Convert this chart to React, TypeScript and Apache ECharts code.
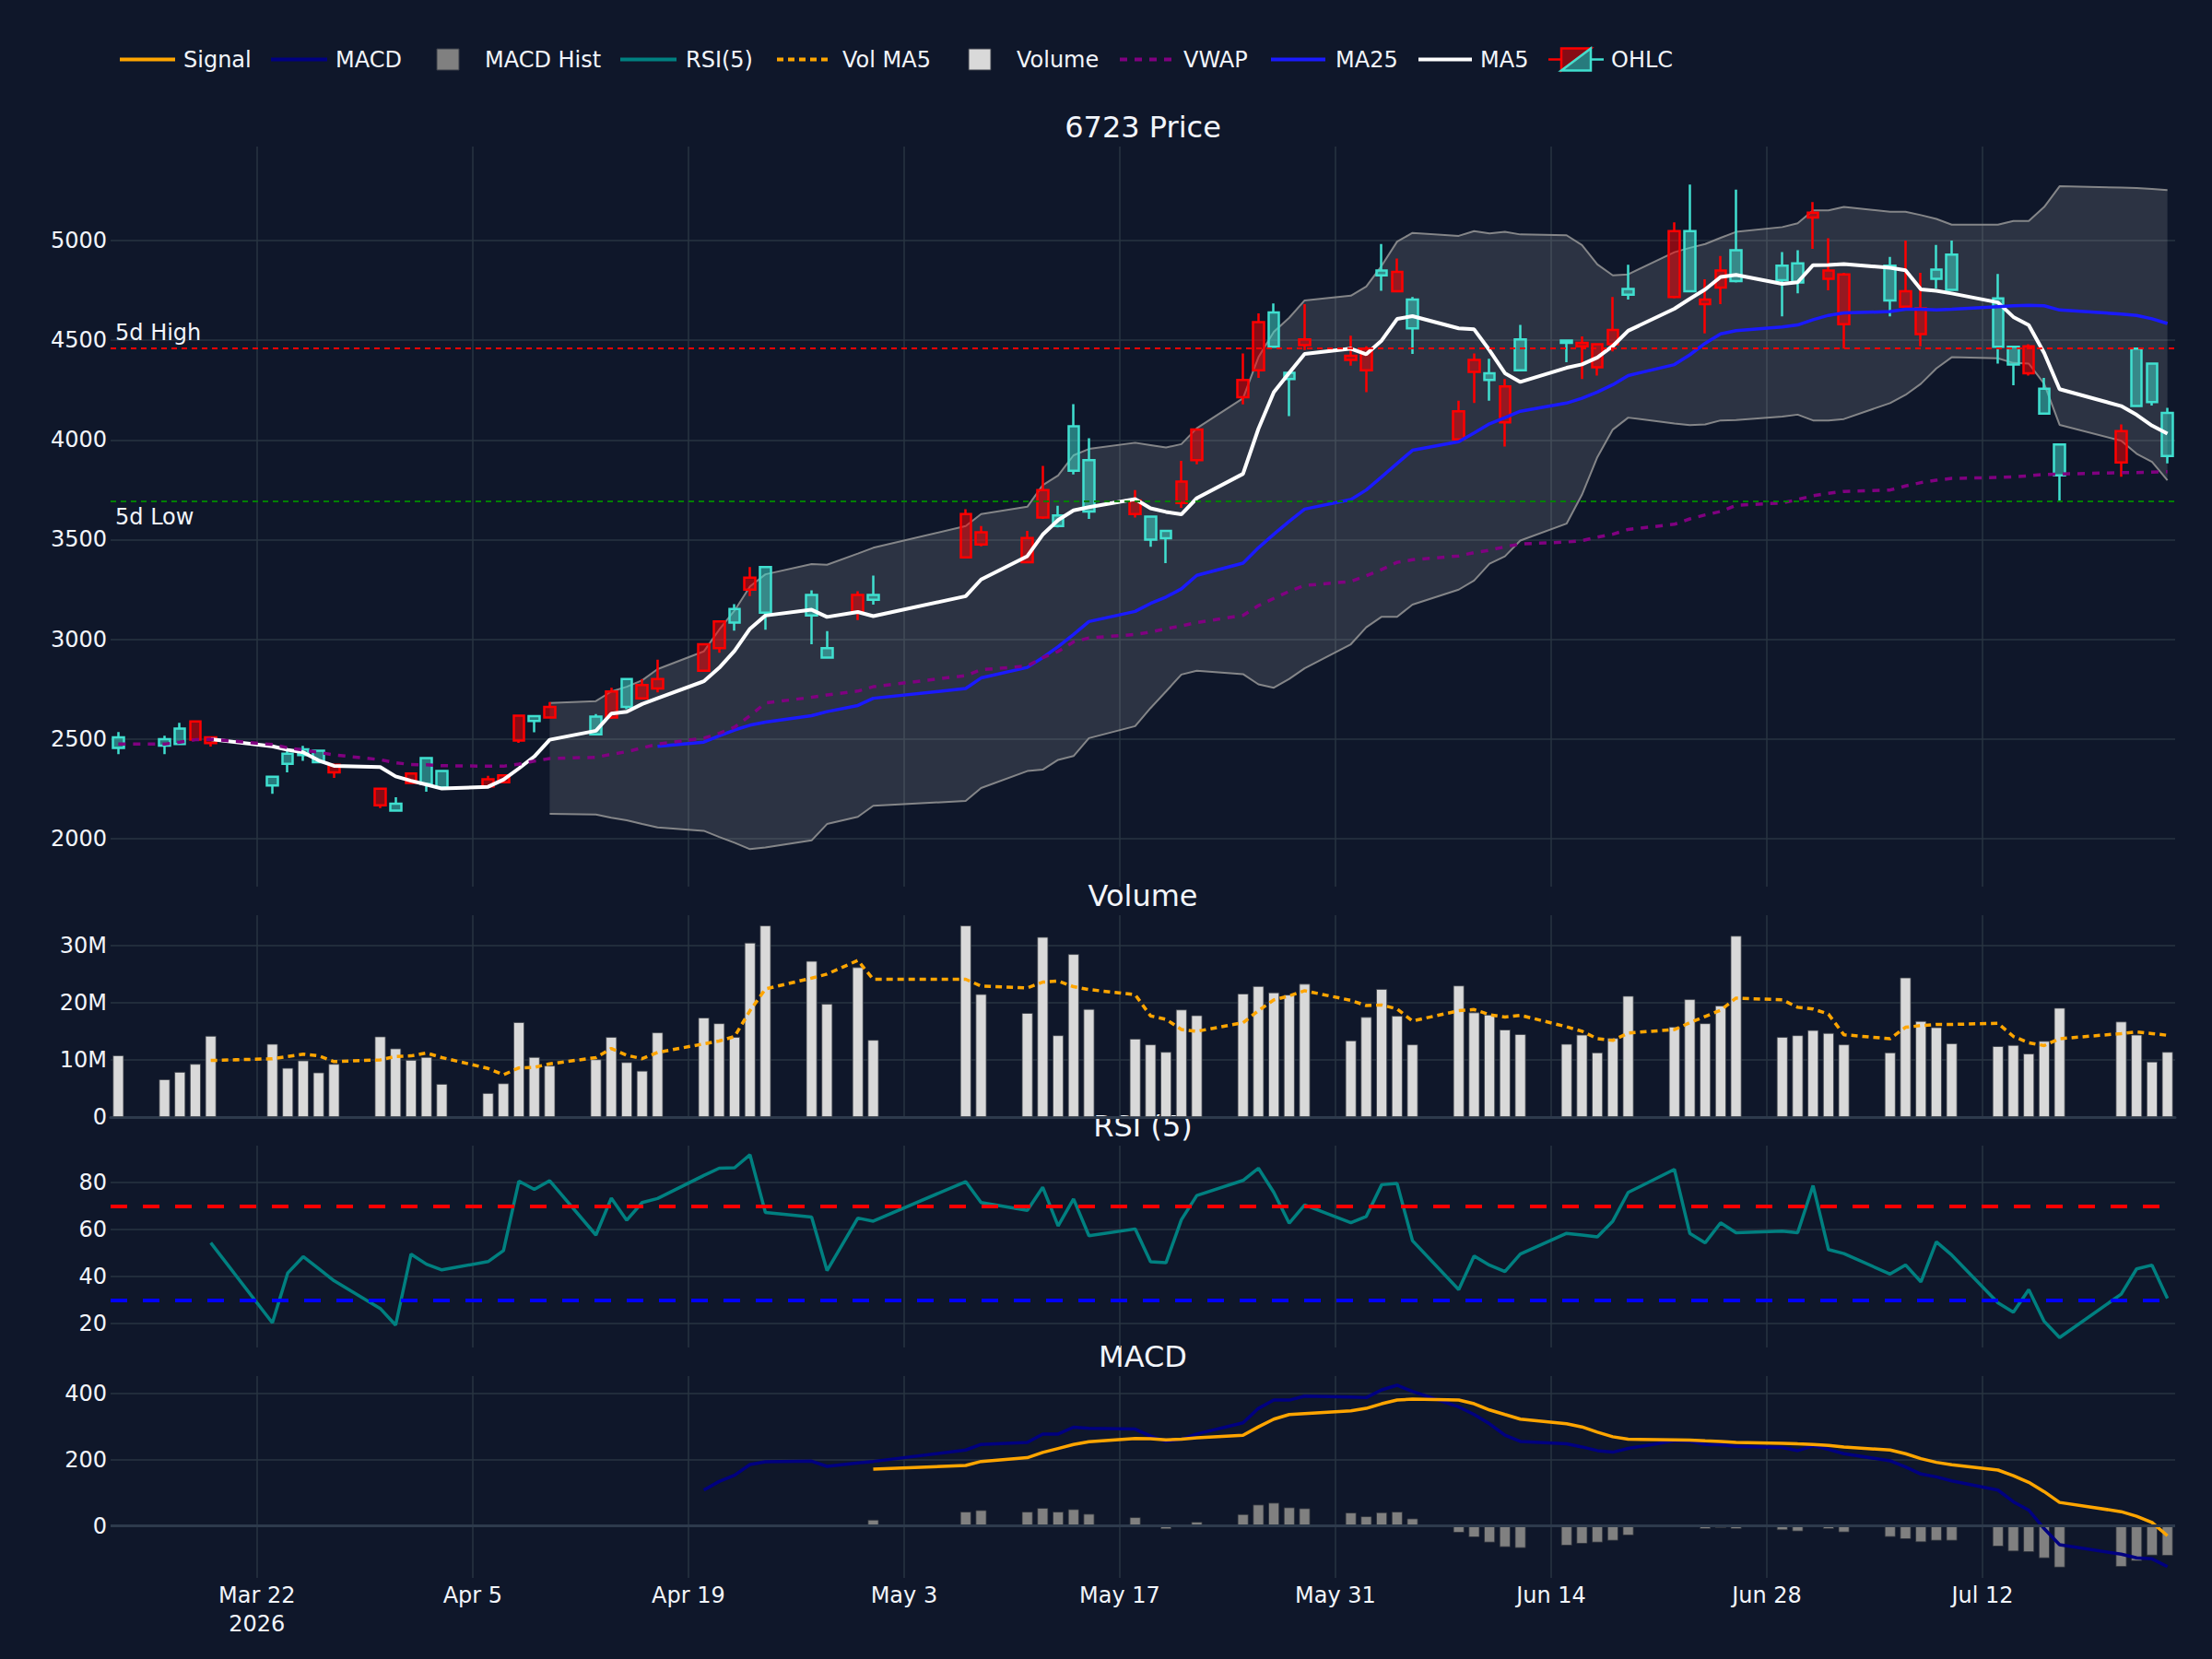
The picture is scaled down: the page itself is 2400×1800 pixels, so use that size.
import React, { useEffect, useRef } from "react";
import * as echarts from "echarts";

// ---- Trading sessions (TSE, 6723) ----
const tradingDays = [
  "2026-03-13", "2026-03-16", "2026-03-17", "2026-03-18", "2026-03-19", "2026-03-23", "2026-03-24", "2026-03-25", "2026-03-26", "2026-03-27",
  "2026-03-30", "2026-03-31", "2026-04-01", "2026-04-02", "2026-04-03", "2026-04-06", "2026-04-07", "2026-04-08", "2026-04-09", "2026-04-10",
  "2026-04-13", "2026-04-14", "2026-04-15", "2026-04-16", "2026-04-17", "2026-04-20", "2026-04-21", "2026-04-22", "2026-04-23", "2026-04-24",
  "2026-04-27", "2026-04-28", "2026-04-30", "2026-05-01", "2026-05-07", "2026-05-08", "2026-05-11", "2026-05-12", "2026-05-13", "2026-05-14",
  "2026-05-15", "2026-05-18", "2026-05-19", "2026-05-20", "2026-05-21", "2026-05-22", "2026-05-25", "2026-05-26", "2026-05-27", "2026-05-28",
  "2026-05-29", "2026-06-01", "2026-06-02", "2026-06-03", "2026-06-04", "2026-06-05", "2026-06-08", "2026-06-09", "2026-06-10", "2026-06-11",
  "2026-06-12", "2026-06-15", "2026-06-16", "2026-06-17", "2026-06-18", "2026-06-19", "2026-06-22", "2026-06-23", "2026-06-24", "2026-06-25",
  "2026-06-26", "2026-06-29", "2026-06-30", "2026-07-01", "2026-07-02", "2026-07-03", "2026-07-06", "2026-07-07", "2026-07-08", "2026-07-09",
  "2026-07-10", "2026-07-13", "2026-07-14", "2026-07-15", "2026-07-16", "2026-07-17", "2026-07-21", "2026-07-22", "2026-07-23", "2026-07-24",
];

const openPrices = [
  2508, 2499, 2552, 2496, 2479, 2310, 2426, 2448, 2441, 2332,
  2167, 2175, 2279, 2404, 2339, 2262, 2283, 2492, 2614, 2608,
  2612, 2608, 2801, 2704, 2753, 2842, 2956, 3152, 3249, 3362,
  3222, 2956, 3133, 3222, 3411, 3476, 3387, 3611, 3621, 4069,
  3899, 3628, 3616, 3544, 3684, 3899, 4214, 4349, 4640, 4337,
  4475, 4402, 4349, 4850, 4746, 4705, 4003, 4342, 4335, 4088,
  4504, 4499, 4470, 4364, 4480, 4758, 4717, 5048, 4681, 4765,
  4952, 4874, 4886, 5116, 4809, 4581, 4874, 4669, 4531, 4855,
  4930, 4710, 4468, 4335, 4257, 3977, 3887, 4458, 4383, 4136,
];
const highPrices = [
  2535, 2516, 2581, 2592, 2510, 2312, 2443, 2465, 2443, 2373,
  2252, 2208, 2330, 2406, 2341, 2315, 2320, 2620, 2616, 2685,
  2625, 2757, 2803, 2801, 2898, 2978, 3095, 3176, 3362, 3365,
  3246, 3041, 3241, 3319, 3653, 3568, 3544, 3870, 3670, 4180,
  4008, 3749, 3620, 3546, 3895, 4057, 4434, 4635, 4685, 4340,
  4681, 4523, 4470, 4983, 4910, 4717, 4197, 4434, 4407, 4306,
  4577, 4504, 4519, 4482, 4717, 4879, 5092, 5281, 4806, 4923,
  5256, 4942, 4952, 5193, 5012, 4838, 4918, 5000, 4838, 4978,
  5000, 4833, 4470, 4480, 4311, 3980, 4078, 4460, 4385, 4161,
];
const lowPrices = [
  2424, 2424, 2470, 2490, 2462, 2225, 2332, 2390, 2378, 2305,
  2153, 2137, 2275, 2235, 2245, 2258, 2280, 2480, 2533, 2605,
  2520, 2600, 2649, 2700, 2733, 2838, 2932, 3043, 3217, 3048,
  2975, 2905, 3096, 3174, 3405, 3466, 3385, 3604, 3561, 3827,
  3604, 3611, 3464, 3382, 3660, 3878, 4178, 4311, 4465, 4119,
  4451, 4373, 4240, 4748, 4741, 4432, 3998, 4185, 4197, 3967,
  4345, 4390, 4306, 4323, 4444, 4705, 4710, 4740, 4535, 4681,
  4790, 4620, 4736, 4959, 4751, 4458, 4620, 4665, 4470, 4760,
  4750, 4383, 4274, 4323, 4130, 3696, 3815, 4165, 4173, 3882,
];
const closePrices = [
  2455, 2467, 2475, 2588, 2508, 2267, 2375, 2419, 2383, 2371,
  2250, 2141, 2327, 2274, 2257, 2298, 2317, 2617, 2590, 2661,
  2523, 2738, 2661, 2770, 2801, 2975, 3089, 3084, 3309, 3133,
  3120, 2908, 3222, 3198, 3628, 3537, 3508, 3749, 3568, 3846,
  3641, 3696, 3500, 3507, 3791, 4052, 4301, 4591, 4468, 4306,
  4504, 4422, 4458, 4826, 4843, 4560, 4144, 4402, 4301, 4269,
  4349, 4487, 4487, 4480, 4552, 4729, 5048, 4746, 4705, 4850,
  4797, 4802, 4790, 5140, 4850, 4831, 4700, 4746, 4661, 4809,
  4753, 4468, 4378, 4470, 4132, 3822, 4044, 4170, 4190, 3919,
];

// Overlays: each array starts at the session index given by its *_FIRST constant
const MA5_FIRST = 4;
const ma5Values = [
  2499, 2463, 2445, 2433, 2392, 2365,
  2359, 2312, 2290, 2271, 2251, 2260, 2296, 2352, 2412, 2496,
  2541, 2627, 2636, 2675, 2704, 2789, 2857, 2942, 3053, 3119,
  3148, 3112, 3137, 3116, 3216, 3300, 3417, 3525, 3598, 3647,
  3663, 3703, 3657, 3639, 3627, 3708, 3830, 4056, 4240, 4337,
  4432, 4458, 4430, 4499, 4607, 4621, 4560, 4555, 4450, 4335,
  4291, 4362, 4379, 4414, 4471, 4548, 4658, 4708, 4755, 4818,
  4828, 4783, 4791, 4877, 4878, 4882, 4864, 4851, 4755, 4748,
  4735, 4690, 4617, 4576, 4436, 4255, 4170, 4126, 4072, 4032,
];

const MA25_FIRST = 24;
const ma25Values = [
  2463, 2484, 2516, 2545, 2569, 2584,
  2617, 2637, 2668, 2704, 2753, 2806, 2859, 2908, 2963, 3024,
  3089, 3140, 3180, 3212, 3253, 3321, 3382, 3459, 3527, 3592,
  3653, 3701, 3749, 3815, 3882, 3948, 3991, 4035, 4081, 4112,
  4144, 4185, 4209, 4240, 4277, 4323, 4378, 4427, 4485, 4532,
  4548, 4567, 4577, 4603, 4625, 4637, 4644, 4656, 4656, 4652,
  4656, 4669, 4673, 4676, 4673, 4652, 4632, 4625, 4608, 4584,
];

const vwapValues = [
  2474, 2474, 2484, 2496, 2499, 2472, 2456, 2444, 2433, 2420,
  2396, 2380, 2372, 2370, 2366, 2363, 2363, 2374, 2389, 2402,
  2408, 2423, 2436, 2455, 2474, 2504, 2528, 2559, 2617, 2680,
  2709, 2721, 2740, 2762, 2818, 2847, 2866, 2908, 2939, 2987,
  3007, 3024, 3036, 3053, 3067, 3084, 3120, 3169, 3205, 3241,
  3270, 3290, 3319, 3350, 3386, 3399, 3418, 3435, 3447, 3464,
  3478, 3488, 3495, 3512, 3527, 3551, 3577, 3604, 3624, 3641,
  3672, 3684, 3701, 3720, 3732, 3742, 3749, 3769, 3786, 3798,
  3807, 3812, 3815, 3820, 3827, 3829, 3836, 3836, 3839, 3841,
];

const BB_FIRST = 19;
const bbUpperValues = [
  2680,
  2690, 2738, 2762, 2794, 2850, 2939, 3048, 3144, 3265, 3326,
  3377, 3374, 3430, 3459, 3568, 3628, 3665, 3773, 3822, 3923,
  3955, 3986, 3974, 3962, 3979, 4059, 4209, 4415, 4543, 4613,
  4700, 4724, 4770, 4874, 4995, 5039, 5024, 5048, 5036, 5044,
  5031, 5027, 4978, 4881, 4826, 4831, 4942, 4964, 4983, 5014,
  5044, 5068, 5087, 5152, 5152, 5169, 5145, 5145, 5128, 5109,
  5080, 5080, 5099, 5099, 5169, 5273, 5266, 5264, 5259, 5254,
];
const bbLowerValues = [
  2124,
  2121, 2105, 2092, 2073, 2056, 2039, 2008, 1979, 1947, 1955,
  1991, 2073, 2109, 2165, 2189, 2254, 2339, 2346, 2395, 2414,
  2504, 2564, 2655, 2738, 2823, 2842, 2825, 2774, 2757, 2801,
  2854, 2975, 3060, 3113, 3113, 3174, 3249, 3295, 3379, 3416,
  3495, 3580, 3725, 3914, 4052, 4112, 4082, 4074, 4078, 4098,
  4100, 4117, 4127, 4098, 4098, 4105, 4185, 4226, 4282, 4359,
  4415, 4410, 4386, 4383, 4282, 4076, 3996, 3931, 3890, 3798,
];

const fiveDayHigh = 4460;
const fiveDayLow = 3692;

// Volume in millions of shares
const volumeMillions = [
  10.8, 6.6, 7.9, 9.3, 14.2, 12.8, 8.6, 9.9, 7.8, 9.3,
  14.1, 12.0, 10.0, 10.5, 5.8, 4.2, 5.9, 16.6, 10.5, 9.0,
  10.1, 14.0, 9.6, 8.1, 14.8, 17.4, 16.4, 14.0, 30.5, 33.5,
  27.3, 19.8, 26.2, 13.5, 33.5, 21.5, 18.2, 31.5, 14.3, 28.5,
  18.9, 13.7, 12.7, 11.4, 18.8, 17.8, 21.6, 22.9, 21.8, 21.4,
  23.3, 13.4, 17.5, 22.4, 17.7, 12.7, 23.0, 18.3, 17.9, 15.3,
  14.5, 12.8, 14.4, 11.3, 13.8, 21.2, 15.8, 20.6, 16.4, 19.5,
  31.7, 14.0, 14.3, 15.2, 14.7, 12.7, 11.3, 24.4, 16.8, 15.7,
  12.9, 12.4, 12.6, 11.1, 13.3, 19.1, 16.7, 14.4, 9.7, 11.4,
];
const VOL_MA5_FIRST = 4;
const volMa5Values = [
  9.9, 10.2, 10.6, 11.0, 10.7, 9.7,
  10.0, 10.6, 10.7, 11.2, 10.4, 8.5, 7.4, 8.6, 8.7, 9.3,
  10.4, 12.0, 10.8, 10.2, 11.3, 12.8, 13.3, 14.1, 18.6, 22.4,
  24.3, 25.0, 27.4, 24.1, 24.1, 22.9, 22.6, 23.6, 23.8, 22.8,
  22.3, 21.4, 17.7, 17.1, 15.3, 15.0, 16.5, 18.6, 20.5, 21.2,
  22.1, 20.4, 19.5, 19.6, 18.9, 16.8, 18.6, 18.8, 17.9, 17.5,
  17.8, 15.8, 15.0, 13.7, 13.4, 14.7, 15.3, 16.5, 17.6, 18.7,
  20.8, 20.5, 19.2, 18.9, 18.0, 14.4, 13.7, 15.7, 16.0, 16.2,
  16.2, 16.4, 14.1, 13.0, 12.5, 13.7, 14.6, 14.9, 14.6, 14.3,
];

const RSI_FIRST = 4;
const rsiValues = [
  54.3, 20.3, 41.5, 48.4, 43.3, 38.2,
  26.4, 19.3, 49.5, 45.2, 42.8, 46.3, 51.0, 80.5, 77.0, 80.7,
  57.6, 73.3, 63.9, 71.4, 73.1, 82.9, 86.0, 86.2, 91.7, 67.2,
  65.2, 42.5, 64.8, 63.5, 80.3, 71.4, 68.1, 77.9, 61.5, 72.9,
  57.3, 60.2, 46.2, 45.8, 64.1, 74.4, 80.8, 86.0, 75.7, 62.6,
  70.4, 62.8, 65.5, 79.0, 79.5, 55.2, 34.4, 48.7, 44.8, 42.1,
  49.5, 58.3, 57.6, 56.8, 63.5, 75.7, 85.5, 58.3, 54.3, 62.8,
  58.6, 59.3, 58.6, 78.6, 51.4, 49.7, 41.0, 44.9, 37.7, 54.7,
  49.1, 28.8, 24.8, 34.4, 20.9, 14.0, 32.5, 43.2, 44.8, 30.7,
];
const rsiOverbought = 70;
const rsiOversold = 30;

const MACD_FIRST = 25;
const macdValues = [
  107.9, 134.0, 152.6, 185.0, 193.5,
  195.3, 179.5, 189.8, 194.4, 228.8, 245.6, 252.0, 277.0, 277.0, 297.7,
  294.0, 292.0, 270.7, 254.9, 261.4, 277.2, 310.7, 354.4, 379.5, 379.5,
  391.6, 388.8, 387.0, 410.2, 424.2, 405.6, 359.0, 335.8, 307.9, 273.5,
  254.9, 247.4, 238.1, 227.0, 222.3, 233.5, 256.7, 254.9, 245.6, 244.7,
  240.0, 236.3, 227.0, 240.9, 230.7, 217.7, 196.3, 177.7, 156.3, 147.9,
  135.8, 107.9, 72.6, 47.4, -8.4, -56.7, -85.6, -96.7, -99.5, -122.8,
];
const SIGNAL_FIRST = 33;
const signalValues = [
  171.2, 182.3, 194.4, 205.6, 221.4, 233.5, 245.6,
  254.0, 263.5, 263.0, 259.5, 261.4, 266.0, 273.5, 298.6, 321.9, 335.8,
  338.6, 347.0, 354.4, 368.4, 379.5, 382.3, 379.5, 368.4, 349.8, 335.8,
  321.9, 307.9, 298.6, 282.8, 268.8, 261.4, 259.5, 258.6, 256.7, 254.9,
  252.1, 249.3, 247.4, 245.6, 242.8, 238.1, 228.8, 217.7, 202.8, 191.6,
  184.2, 168.4, 151.6, 131.2, 103.3, 70.7, 42.8, 28.8, 10.2, -29.8,
];
const histValues = [
  18.6, 42.8, 47.4, 42.8, 54.0, 42.8, 50.2,
  36.3, 26.0, 3.7, -10.2, -3.7, 12.1, 35.3, 64.2, 69.8, 55.8,
  53.0, 40.0, 28.8, 40.9, 42.8, 22.3, -20.5, -34.4, -50.2, -64.2,
  -67.0, -59.5, -54.0, -50.2, -44.7, -28.8, -3.7, -3.7, -9.3, -6.5,
  -9.3, -13.0, -16.7, -3.7, -9.3, -19.5, -33.5, -40.0, -49.3, -44.7,
  -44.7, -62.3, -77.2, -79.1, -97.7, -125.6, -123.7, -106.0, -89.3, -90.2,
];

// Axis ticks
const xTickDates = [
  "2026-03-22", "2026-04-05", "2026-04-19", "2026-05-03", "2026-05-17",
  "2026-05-31", "2026-06-14", "2026-06-28", "2026-07-12",
];
const priceTicks = [2000, 2500, 3000, 3500, 4000, 4500, 5000];
const volumeTicks = [0, 10, 20, 30];
const rsiTicks = [20, 40, 60, 80];
const macdTicks = [0, 200, 400];

// ---- Styling ----
const FONT = '"DejaVu Sans", Verdana, sans-serif';
const TEXT = "#f2f5fa";
const BG = "#0f172a";
const GRID_LINE = "#283442";
const ZERO_LINE = "#2d3a4c";
const UP = "#ff0000";
const DOWN = "#40e0d0";

const COLORS = {
  signal: "#ffa500",
  macd: "#000080",
  hist: "#808080",
  rsi: "#008080",
  volMa5: "#ffa500",
  volume: "#d9d9d9",
  vwap: "#800080",
  ma25: "#1a1aff",
  ma5: "#ffffff",
};
const VOL_MA5_DASH = [7, 5];
const VWAP_DASH = [8, 8];

const DAY_MS = 86400000;
const AXIS_ORIGIN = Date.UTC(2026, 2, 22);
const MONTHS = ["Jan", "Feb", "Mar", "Apr", "May", "Jun", "Jul", "Aug", "Sep", "Oct", "Nov", "Dec"];

const dayNum = (iso: string) => {
  const [y, m, d] = iso.split("-").map(Number);
  return Math.round((Date.UTC(y, m - 1, d) - AXIS_ORIGIN) / DAY_MS);
};

const xs = tradingDays.map(dayNum);
const xTicks = xTickDates.map(dayNum);
const X_MIN = xs[0] - 0.5;
const X_MAX = xs[xs.length - 1] + 0.5;

const points = (values: number[], first = 0) => values.map((v, i) => [xs[first + i], v]);

const formatDateTick = (v: number) => {
  const dt = new Date(AXIS_ORIGIN + v * DAY_MS);
  const s = `${MONTHS[dt.getUTCMonth()]} ${dt.getUTCDate()}`;
  return v === xTicks[0] ? `${s}\n${dt.getUTCFullYear()}` : s;
};

const PLOT_LEFT = 120;
const PLOT_WIDTH = 2240;
const PLOT_CENTER = PLOT_LEFT + PLOT_WIDTH / 2;
const panels = [
  { top: 159, height: 803 },
  { top: 993, height: 219 },
  { top: 1243, height: 219 },
  { top: 1493, height: 219 },
];

const axisFont = { color: TEXT, fontSize: 24, fontFamily: FONT };

const xAxisFor = (gridIndex: number) => ({
  type: "value",
  gridIndex,
  min: X_MIN,
  max: X_MAX,
  axisLine: { show: gridIndex === 1, onZero: false, lineStyle: { color: ZERO_LINE, width: 3 } },
  axisTick: { show: false, customValues: xTicks },
  axisLabel:
    gridIndex === 3
      ? { show: true, customValues: xTicks, formatter: formatDateTick, lineHeight: 31, margin: 3, ...axisFont }
      : { show: false },
  splitLine: { show: true, lineStyle: { color: GRID_LINE, width: 1.5 } },
});

const plainNumber = (v: number) => String(v);

const yAxisFor = (gridIndex: number, min: number, max: number, ticks: number[], formatter = plainNumber) => ({
  type: "value",
  gridIndex,
  min,
  max,
  axisLine: { show: false },
  axisTick: { show: false, customValues: ticks },
  axisLabel: { customValues: ticks, margin: 4, formatter, ...axisFont },
  splitLine: { show: true, lineStyle: { color: GRID_LINE, width: 1.5 } },
});

const lineSeries = (name: string, data: number[][], grid: number, lineStyle: any, z = 3) => ({
  name,
  type: "line",
  xAxisIndex: grid,
  yAxisIndex: grid,
  data,
  symbol: "none",
  showSymbol: false,
  lineStyle,
  itemStyle: { color: lineStyle.color },
  emphasis: { disabled: true },
  silent: true,
  z,
});

// ---- Legend row along the top ----
const LEGEND_Y = 64.5;
type LegendSpec = { label: string; kind: "line" | "box" | "ohlc"; color?: string; dash?: number[]; x0: number; x1: number; textX: number };
const legendSpecs: LegendSpec[] = [
  { label: "Signal", kind: "line", color: COLORS.signal, x0: 130, x1: 190, textX: 199 },
  { label: "MACD", kind: "line", color: COLORS.macd, x0: 294, x1: 355, textX: 364 },
  { label: "MACD Hist", kind: "box", color: COLORS.hist, x0: 474, x1: 498, textX: 526 },
  { label: "RSI(5)", kind: "line", color: COLORS.rsi, x0: 673, x1: 734, textX: 744 },
  { label: "Vol MA5", kind: "line", color: COLORS.volMa5, dash: VOL_MA5_DASH, x0: 843, x1: 898, textX: 914 },
  { label: "Volume", kind: "box", color: COLORS.volume, x0: 1051, x1: 1075, textX: 1103 },
  { label: "VWAP", kind: "line", color: COLORS.vwap, dash: VWAP_DASH, x0: 1215, x1: 1271, textX: 1284 },
  { label: "MA25", kind: "line", color: COLORS.ma25, x0: 1379, x1: 1438, textX: 1449 },
  { label: "MA5", kind: "line", color: COLORS.ma5, x0: 1539, x1: 1597, textX: 1606 },
  { label: "OHLC", kind: "ohlc", x0: 1680, x1: 1740, textX: 1748 },
];

function legendGraphics() {
  const out: any[] = [];
  for (const item of legendSpecs) {
    if (item.kind === "line") {
      out.push({
        type: "line",
        silent: true,
        shape: { x1: item.x0, y1: LEGEND_Y, x2: item.x1, y2: LEGEND_Y },
        style: { stroke: item.color, lineWidth: 4, lineDash: item.dash || null },
      });
    } else if (item.kind === "box") {
      out.push({
        type: "rect",
        silent: true,
        shape: { x: item.x0, y: LEGEND_Y - 11.5, width: item.x1 - item.x0, height: 23 },
        style: { fill: item.color, stroke: "#3a3f48", lineWidth: 1 },
      });
    } else {
      // rising half (top-left, red) and falling half (bottom-right, turquoise)
      const cx = (item.x0 + item.x1) / 2;
      const cy = LEGEND_Y;
      out.push(
        { type: "line", silent: true, shape: { x1: cx - 30, y1: cy, x2: cx - 16, y2: cy }, style: { stroke: UP, lineWidth: 2.5 } },
        { type: "line", silent: true, shape: { x1: cx + 16, y1: cy, x2: cx + 30, y2: cy }, style: { stroke: DOWN, lineWidth: 2.5 } },
        {
          type: "polygon",
          silent: true,
          shape: { points: [[cx - 16, cy + 12], [cx - 16, cy - 12], [cx + 16, cy - 12]] },
          style: { fill: "rgba(255,0,0,0.5)", stroke: UP, lineWidth: 2.5 },
        },
        {
          type: "polygon",
          silent: true,
          shape: { points: [[cx + 16, cy - 12], [cx + 16, cy + 12], [cx - 16, cy + 12]] },
          style: { fill: "rgba(64,224,208,0.5)", stroke: DOWN, lineWidth: 2.5 },
        }
      );
    }
    out.push({
      type: "text",
      silent: true,
      x: item.textX,
      y: LEGEND_Y,
      style: {
        text: item.label,
        fill: TEXT,
        fontSize: 24,
        fontFamily: FONT,
        textAlign: "left",
        textVerticalAlign: "middle",
        align: "left",
        verticalAlign: "middle",
      },
    });
  }
  return out;
}

function buildOption() {
  const bandPoints = bbUpperValues.map((u, i) => [xs[BB_FIRST + i], bbLowerValues[i], u]);

  const titles = [
    { text: "6723 Price", y: 138 },
    { text: "Volume", y: 972 },
    { text: "RSI (5)", y: 1222 },
    { text: "MACD", y: 1472 },
  ].map((t) => ({
    type: "text",
    x: PLOT_CENTER,
    y: t.y,
    silent: true,
    style: {
      text: t.text,
      fill: TEXT,
      fontSize: 32,
      fontFamily: FONT,
      textAlign: "center",
      textVerticalAlign: "middle",
      align: "center",
      verticalAlign: "middle",
    },
  }));

  return {
    animation: false,
    backgroundColor: BG,
    textStyle: { fontFamily: FONT },
    grid: panels.map((p) => ({ left: PLOT_LEFT, width: PLOT_WIDTH, top: p.top, height: p.height })),
    xAxis: [0, 1, 2, 3].map(xAxisFor),
    yAxis: [
      yAxisFor(0, 1759, 5472, priceTicks),
      yAxisFor(1, 0, 35.3, volumeTicks, (v: number) => (v === 0 ? "0" : `${v}M`)),
      yAxisFor(2, 9.8, 95.6, rsiTicks),
      yAxisFor(3, -157, 452, macdTicks),
    ],
    graphic: [...titles, ...legendGraphics()],
    series: [
      {
        name: "BB Band",
        type: "custom",
        xAxisIndex: 0,
        yAxisIndex: 0,
        silent: true,
        z: 1,
        data: [[bandPoints[0][0], bandPoints[0][1]]],
        encode: { x: 0, y: 1 },
        renderItem: (_params: any, api: any) => {
          const upper = bandPoints.map((p) => api.coord([p[0], p[2]]));
          const lower = bandPoints.map((p) => api.coord([p[0], p[1]])).reverse();
          return {
            type: "polygon",
            shape: { points: upper.concat(lower) },
            style: { fill: "rgba(255,255,255,0.12)" },
          };
        },
      },
      lineSeries("BB Upper", points(bbUpperValues, BB_FIRST), 0, { color: "rgba(150,150,150,0.85)", width: 2 }, 2),
      lineSeries("BB Lower", points(bbLowerValues, BB_FIRST), 0, { color: "rgba(150,150,150,0.85)", width: 2 }, 2),
      {
        name: "OHLC",
        type: "candlestick",
        xAxisIndex: 0,
        yAxisIndex: 0,
        data: xs.map((x, i) => [x, openPrices[i], closePrices[i], lowPrices[i], highPrices[i]]),
        encode: { x: 0, y: [1, 2, 3, 4] },
        barWidth: 12,
        silent: true,
        z: 3,
        itemStyle: {
          color: "rgba(255,0,0,0.5)",
          color0: "rgba(64,224,208,0.5)",
          borderColor: UP,
          borderColor0: DOWN,
          borderWidth: 2.5,
        },
        markLine: {
          silent: true,
          symbol: "none",
          animation: false,
          data: [
            {
              yAxis: fiveDayHigh,
              lineStyle: { color: "#ff0000", width: 2, type: [6, 5] },
              label: { show: true, formatter: "5d High", position: "insideStartTop", distance: 5, ...axisFont },
            },
            {
              yAxis: fiveDayLow,
              lineStyle: { color: "#008000", width: 2, type: [6, 5] },
              label: { show: true, formatter: "5d Low", position: "insideStartBottom", distance: 5, ...axisFont },
            },
          ],
        },
      },
      lineSeries("MA5", points(ma5Values, MA5_FIRST), 0, { color: COLORS.ma5, width: 4 }, 4),
      lineSeries("MA25", points(ma25Values, MA25_FIRST), 0, { color: COLORS.ma25, width: 3.5 }, 4),
      lineSeries("VWAP", points(vwapValues), 0, { color: COLORS.vwap, width: 3.5, type: VWAP_DASH }, 4),
      {
        name: "Volume",
        type: "bar",
        xAxisIndex: 1,
        yAxisIndex: 1,
        data: points(volumeMillions),
        barWidth: 12,
        silent: true,
        itemStyle: { color: COLORS.volume, borderColor: "#3a3f48", borderWidth: 0.8 },
      },
      lineSeries("Vol MA5", points(volMa5Values, VOL_MA5_FIRST), 1, { color: COLORS.volMa5, width: 3.5, type: VOL_MA5_DASH }, 4),
      {
        ...lineSeries("RSI(5)", points(rsiValues, RSI_FIRST), 2, { color: COLORS.rsi, width: 3.5 }),
        markLine: {
          silent: true,
          symbol: "none",
          animation: false,
          label: { show: false },
          data: [
            { yAxis: rsiOverbought, lineStyle: { color: "#ff0000", width: 4, type: [18, 17] } },
            { yAxis: rsiOversold, lineStyle: { color: "#0000ff", width: 4, type: [18, 17] } },
          ],
        },
      },
      {
        name: "MACD Hist",
        type: "bar",
        xAxisIndex: 3,
        yAxisIndex: 3,
        data: points(histValues, SIGNAL_FIRST),
        barWidth: 12,
        silent: true,
        itemStyle: { color: COLORS.hist, borderColor: "#2a2f38", borderWidth: 0.8 },
        markLine: {
          silent: true,
          symbol: "none",
          animation: false,
          label: { show: false },
          data: [{ yAxis: 0, lineStyle: { color: ZERO_LINE, width: 3, type: "solid" } }],
        },
      },
      lineSeries("MACD", points(macdValues, MACD_FIRST), 3, { color: COLORS.macd, width: 3.5 }, 4),
      lineSeries("Signal", points(signalValues, SIGNAL_FIRST), 3, { color: COLORS.signal, width: 3.5 }, 4),
    ],
  };
}

export default function App() {
  const ref = useRef<HTMLDivElement>(null);
  useEffect(() => {
    if (!ref.current) return;
    const chart = echarts.init(ref.current, undefined, { renderer: "svg" });
    chart.setOption(buildOption() as any);
    return () => chart.dispose();
  }, []);
  return (
    <div
      ref={ref}
      style={{ position: "absolute", left: 0, top: 0, width: 2400, height: 1800, background: BG }}
    />
  );
}
